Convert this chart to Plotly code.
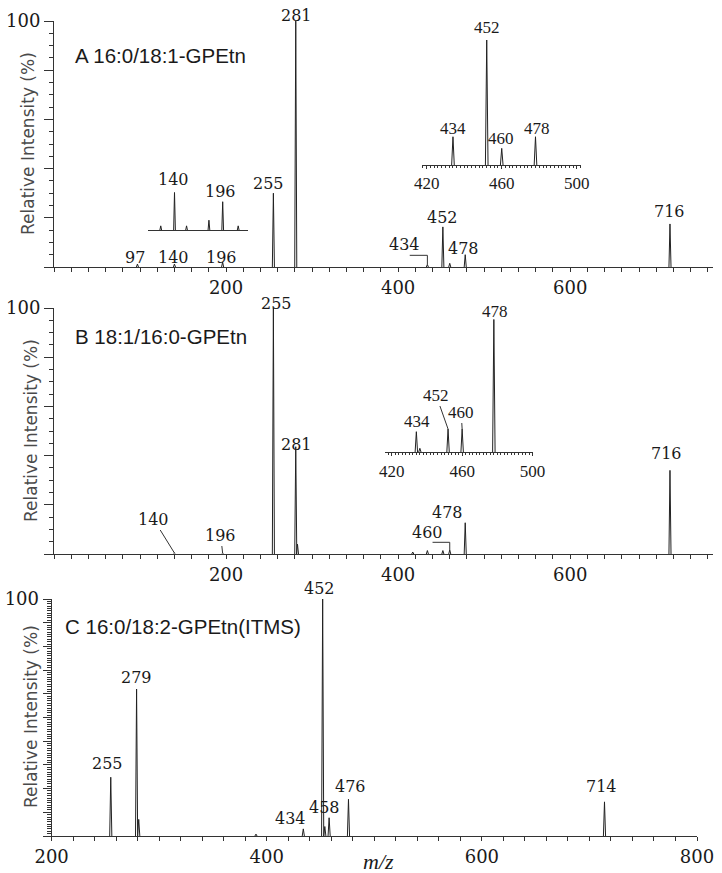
import plotly.graph_objects as go

W, H = 722, 873

# ---------------- data (m/z, relative intensity %) ----------------
# Panel A: 16:0/18:1-GPEtn
mzA = [97, 140, 196, 255, 281, 434, 452, 460, 478, 716]
intA = [1.2, 1.2, 2.0, 30.0, 100.0, 1.0, 16.3, 1.5, 5.0, 17.5]
mzA1 = [124, 140, 154, 180, 196, 214]          # low-mass inset (expanded)
intA1 = [11, 100, 11, 26, 75, 11]
mzA2 = [434, 452, 460, 478]                     # 420-500 inset
intA2 = [22.6, 100, 13.3, 22.6]

# Panel B: 18:1/16:0-GPEtn
mzB = [140, 196, 255, 281, 283, 417, 434, 452, 460, 478, 716]
intB = [0.4, 0.4, 100.0, 43.6, 4.0, 0.8, 1.4, 1.4, 1.6, 12.7, 34.0]
mzB1 = [434, 436, 452, 460, 478]
intB1 = [15.5, 3.0, 17.5, 17.5, 100]

# Panel C: 16:0/18:2-GPEtn (ITMS)
mzC = [255, 279, 281, 390, 434, 452, 454, 458, 476, 714]
intC = [24.8, 62.0, 7.0, 0.8, 3.0, 100.0, 4.0, 7.7, 15.5, 14.4]

titles = ["A 16:0/18:1-GPEtn", "B 18:1/16:0-GPEtn", "C 16:0/18:2-GPEtn(ITMS)"]
x_ticks_AB = [200, 400, 600]
x_ticks_C = [200, 400, 600, 800]
inset_ticks = [420, 460, 500]

# labelled peaks: (m/z, dx px, dy px)
labA = [(281, 1, 6), (255, -5, 10), (452, 0, 9), (478, -2, 6), (716, 0, 12),
        (97, -2, 7), (140, -1, 7), (196, -1, 5)]
labA1 = [(140, -1, 13), (196, -2, 10)]
labA2 = [(434, 0, 8), (452, 0, 12), (460, -1, 10), (478, 1, 8)]
labB = [(255, 3, 5), (281, 1, 2), (716, -3, 17), (478, -18, 10)]
labB1 = [(434, 1, 10), (478, 1, 8)]
labC = [(452, -3, 11), (279, 0, 12), (255, -3, 14), (434, -13, 10),
        (458, -5, 10), (476, 2, 13), (714, -3, 15)]

LC = "#333333"
TC = "#1a1a1a"
SERIF_W = "DejaVu Serif"
SERIF_N = "Liberation Serif"


def sticks(mz, inten, hw):
    xs, ys = [], []
    for m, h in zip(mz, inten):
        xs += [m - hw, m, m + hw, None]
        ys += [0, h, 0, None]
    return xs, ys


def fx(px):
    return px / W


def fy(py):
    return 1 - py / H


fig = go.Figure()

series = [
    (mzA, intA, 1.2, "x", "y"),
    (mzA1, intA1, 1.0, "x4", "y4"),
    (mzA2, intA2, 0.7, "x5", "y5"),
    (mzB, intB, 1.2, "x2", "y2"),
    (mzB1, intB1, 0.7, "x6", "y6"),
    (mzC, intC, 1.0, "x3", "y3"),
]
for mz, it, hw, xa, ya in series:
    xs, ys = sticks(mz, it, hw)
    fig.add_trace(go.Scatter(x=xs, y=ys, mode="lines", xaxis=xa, yaxis=ya,
                             line=dict(color="#222222", width=1),
                             hoverinfo="skip", showlegend=False))


def main_x(dom, rng, anchor, tv):
    return dict(domain=dom, range=rng, anchor=anchor, showline=True, linecolor=LC,
                linewidth=1, ticks="outside", ticklen=4, tickcolor=LC, tickmode="array",
                tickvals=tv, tickfont=dict(family=SERIF_W, size=18, color=TC),
                showgrid=False, zeroline=False, fixedrange=True, automargin=False,
                minor=dict(tickmode="linear", tick0=0, dtick=20, ticks="outside",
                           ticklen=4, tickcolor=LC, showgrid=False))


def main_y(dom, anchor, major, minor, mlen):
    tv = list(range(0, 101, major))
    tt = [""] * (len(tv) - 1) + ["100"]
    return dict(domain=dom, range=[0, 100], anchor=anchor, showline=True, linecolor=LC,
                linewidth=1, ticks="outside", ticklen=mlen, tickcolor=LC,
                tickmode="array", tickvals=tv, ticktext=tt,
                tickfont=dict(family=SERIF_W, size=18, color=TC),
                showgrid=False, zeroline=False, fixedrange=True, automargin=False,
                minor=dict(tickmode="linear", tick0=0, dtick=minor, ticks="outside",
                           ticklen=4, tickcolor=LC, showgrid=False))


def inset_x(dom, rng, anchor, show):
    d = dict(domain=dom, range=rng, anchor=anchor, showline=True, linecolor=LC,
             linewidth=1, showgrid=False, zeroline=False, fixedrange=True,
             automargin=False)
    if show:
        d.update(ticks="outside", ticklen=3, tickcolor=LC, tickmode="array",
                 tickvals=inset_ticks, tickfont=dict(family=SERIF_N, size=17, color=TC),
                 minor=dict(tickmode="linear", tick0=420, dtick=2, ticks="outside",
                            ticklen=2, tickcolor=LC, showgrid=False))
    else:
        d.update(ticks="", showticklabels=False)
    return d


def inset_y(dom, anchor):
    return dict(domain=dom, range=[0, 100], anchor=anchor, visible=False,
                fixedrange=True, automargin=False)


layout = dict(
    width=W, height=H, margin=dict(l=0, r=0, t=0, b=0, autoexpand=False),
    paper_bgcolor="white", plot_bgcolor="rgba(0,0,0,0)", showlegend=False,
    xaxis=main_x([fx(54), fx(713)], [0, 766], "y", x_ticks_AB),
    yaxis=main_y([fy(267), fy(21)], "x", 20, 5, 9),
    xaxis2=main_x([fx(54), fx(713)], [0, 766], "y2", x_ticks_AB),
    yaxis2=main_y([fy(554), fy(308)], "x2", 20, 5, 9),
    xaxis3=main_x([fx(51.6), fx(697)], [200, 800], "y3", x_ticks_C),
    yaxis3=main_y([fy(836), fy(599)], "x3", 10, 1, 8),
    xaxis4=inset_x([fx(148), fx(248)], [109.2, 225.4], "y4", False),
    yaxis4=inset_y([fy(230), fy(192.3)], "x4"),
    xaxis5=inset_x([fx(422.3), fx(580.7)], [417.65, 502.1], "y5", True),
    yaxis5=inset_y([fy(165), fy(40)], "x5"),
    xaxis6=inset_x([fx(385), fx(533.3)], [416.2, 500.4], "y6", True),
    yaxis6=inset_y([fy(452.3), fy(319.3)], "x6"),
)
fig.update_layout(**layout)

anns = []
shapes = []


def peak_labels(labs, mz, it, xr, yr, family, size):
    lookup = dict(zip(mz, it))
    for m, dx, dy in labs:
        anns.append(dict(text=str(m), x=m, y=lookup[m], xref=xr, yref=yr,
                         xshift=dx, yshift=dy, showarrow=False, xanchor="center",
                         yanchor="middle", font=dict(family=family, size=size, color=TC)))


peak_labels(labA, mzA, intA, "x", "y", SERIF_W, 16)
peak_labels(labA1, mzA1, intA1, "x4", "y4", SERIF_W, 16)
peak_labels(labA2, mzA2, intA2, "x5", "y5", SERIF_N, 17)
peak_labels(labB, mzB, intB, "x2", "y2", SERIF_W, 16)
peak_labels(labB1, mzB1, intB1, "x6", "y6", SERIF_N, 17)
peak_labels(labC, mzC, intC, "x3", "y3", SERIF_W, 16)


# bracket-style leaders (horizontal then down to the peak)
def bracket(m, mz, it, xr, yr, length, level, text, dx, dy):
    h = dict(zip(mz, it))[m]
    shapes.append(dict(type="line", xref=xr, yref=yr, x0=m - length, x1=m,
                       y0=level, y1=level, line=dict(color=LC, width=1)))
    shapes.append(dict(type="line", xref=xr, yref=yr, x0=m, x1=m,
                       y0=level, y1=h, line=dict(color=LC, width=1)))
    anns.append(dict(text=text, x=m, y=h, xref=xr, yref=yr, xshift=dx, yshift=dy,
                     showarrow=False, xanchor="center", yanchor="middle",
                     font=dict(family=SERIF_W, size=16, color=TC)))


bracket(434, mzA, intA, "x", "y", 20.5, 4.75, "434", -23, 20)
bracket(460, mzB, intB, "x2", "y2", 20, 4.75, "460", -22, 18)


# slanted / vertical leaders
def leader(m, mz, it, xr, yr, ax, ay, family, size):
    h = dict(zip(mz, it))[m]
    anns.append(dict(text=str(m), x=m, y=h, xref=xr, yref=yr, showarrow=True,
                     arrowhead=0, arrowwidth=1, arrowcolor=LC, standoff=0,
                     ax=ax, ay=ay, font=dict(family=family, size=size, color=TC)))


leader(140, mzB, intB, "x2", "y2", -21, -34, SERIF_W, 16)
leader(196, mzB, intB, "x2", "y2", -2, -18, SERIF_W, 16)
leader(452, mzB1, intB1, "x6", "y6", -12, -34, SERIF_N, 17)
leader(460, mzB1, intB1, "x6", "y6", -1, -17, SERIF_N, 17)

# panel titles
for t, (px, py) in zip(titles, [(73, 55), (73, 337), (63, 626)]):
    anns.append(dict(text=t, x=fx(px), y=fy(py), xref="paper", yref="paper",
                     xanchor="left", yanchor="middle", showarrow=False,
                     font=dict(family="Liberation Sans", size=20.5, color=TC)))

# y axis titles
for px, py in [(28, 144), (31, 431), (31, 717)]:
    anns.append(dict(text="Relative Intensity (%)", x=fx(px), y=fy(py), xref="paper",
                     yref="paper", textangle=-90, showarrow=False, xanchor="center",
                     yanchor="middle",
                     font=dict(family="DejaVu Sans", size=17, color="#4a4a4a")))

# x axis title
anns.append(dict(text="<i>m/z</i>", x=fx(378), y=fy(861), xref="paper", yref="paper",
                 showarrow=False, xanchor="center", yanchor="middle",
                 font=dict(family=SERIF_N, size=22, color=TC)))

fig.update_layout(annotations=anns, shapes=shapes)
fig.write_html("out.html",
               config={"displayModeBar": False, "staticPlot": True},
               post_script="document.body.style.margin='0';"
                           "document.body.style.overflow='hidden';")
